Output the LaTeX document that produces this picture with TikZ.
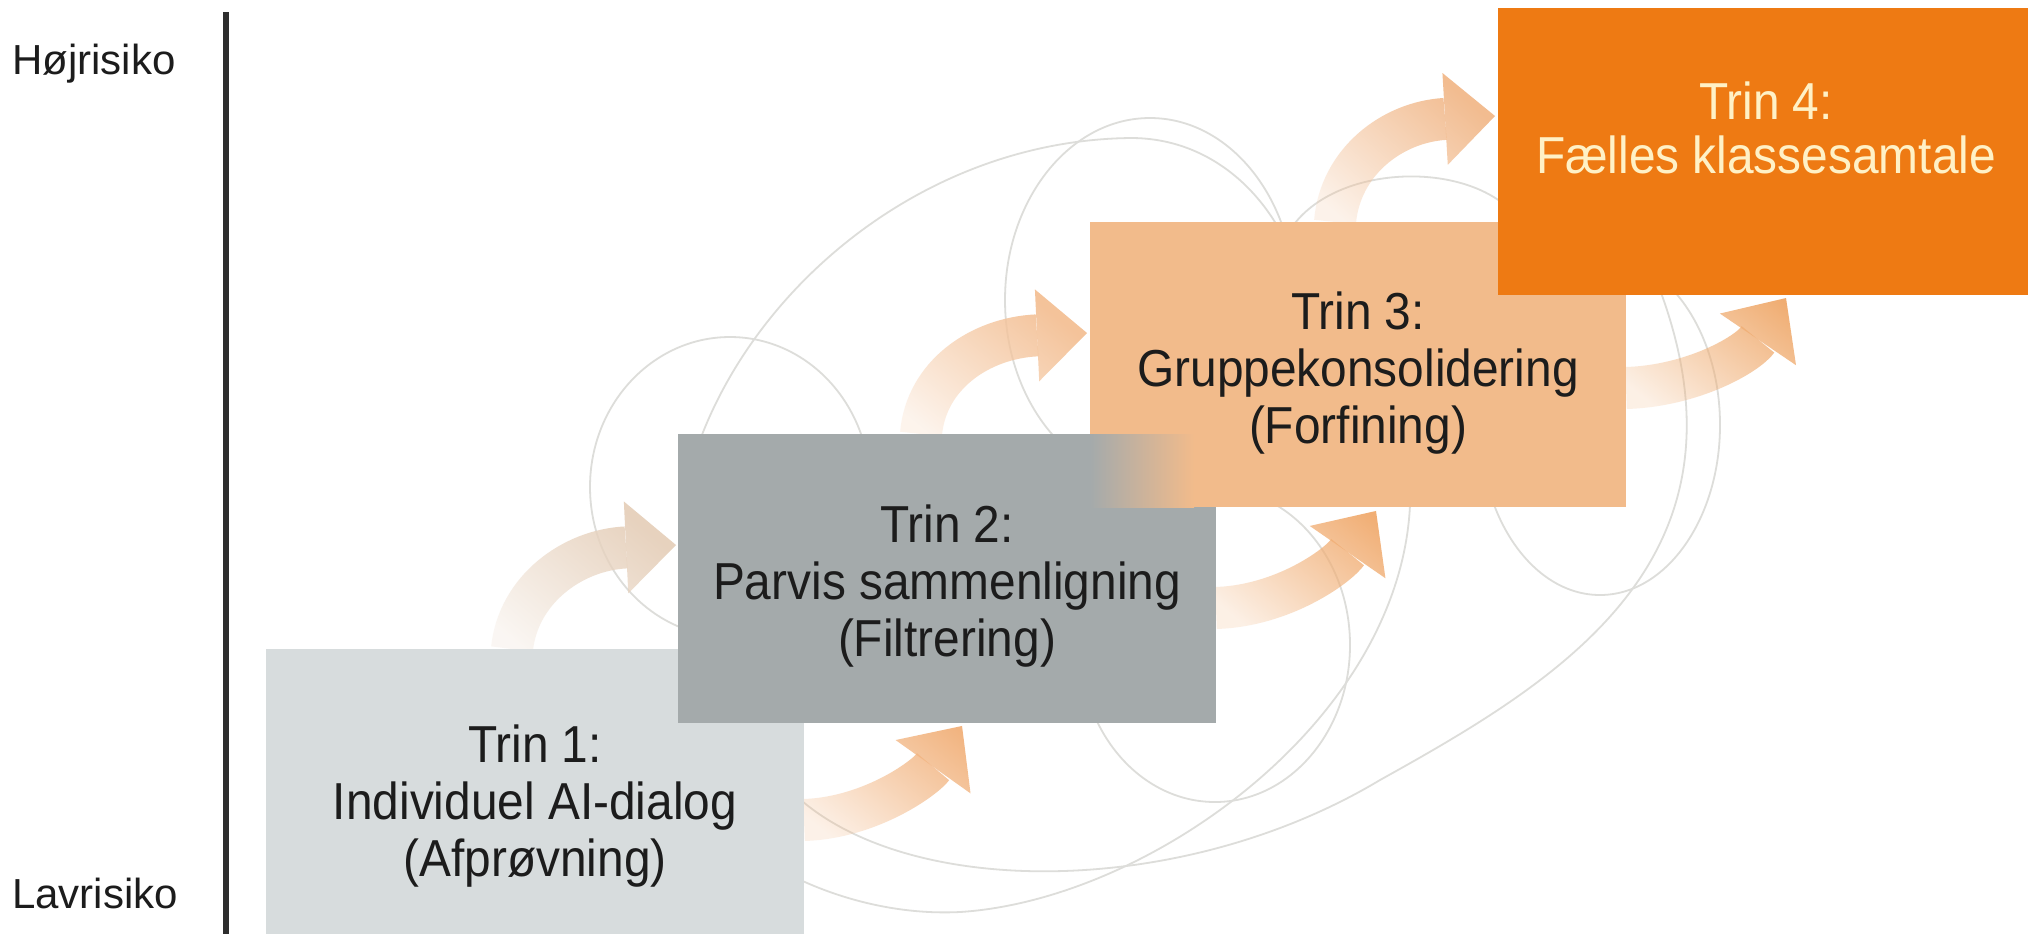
\documentclass[tikz,border=0pt]{standalone}
\usepackage{fontspec}
\setmainfont{Liberation Sans}
\newfontfamily\stepfont[FakeStretch=0.92]{Liberation Sans}
\newfontfamily\sidefont{Liberation Sans}
\usetikzlibrary{arrows.meta,fadings,calc}

\definecolor{stepone}{HTML}{D7DCDD}
\definecolor{steptwo}{HTML}{A4AAAB}
\definecolor{stepthree}{HTML}{F2BB8B}
\definecolor{stepfour}{HTML}{EE7A13}
\definecolor{inkdark}{HTML}{1C1C1C}
\definecolor{inkcream}{HTML}{FFF1C6}
\definecolor{ringgray}{HTML}{DDDDDA}
\definecolor{axisgray}{HTML}{2E2E2E}
\definecolor{flowA}{HTML}{E7D2BE}
\definecolor{flowB}{HTML}{F2B480}
\definecolor{flowC}{HTML}{F4C39A}
\definecolor{flowD}{HTML}{F1AE74}
\definecolor{flowE}{HTML}{F2BC90}
\definecolor{flowF}{HTML}{F0AD72}

\tikzfading[name=flowfade, left color=transparent!82, middle color=transparent!0, right color=transparent!0]

\pgfdeclarelayer{backdrop}
\pgfdeclarelayer{flow}
\pgfsetlayers{backdrop,flow,main}

\begin{document}
\begin{tikzpicture}[x=0.5pt, y=-0.5pt,
  stagebox/.style={rectangle, draw=none, inner sep=0pt, outer sep=0pt},
  steptext/.style={inner sep=0pt, align=center, text=inkdark,
    font=\stepfont\fontsize{26}{28.5}\selectfont},
  sidelabel/.style={inner sep=0pt, text=inkdark,
    font=\sidefont\fontsize{21}{25}\selectfont},
  ring/.style={draw=ringgray, line width=0.9pt},
  flowarrow/.style={line width=21pt, line cap=butt,
    -{Triangle[width=46pt, length=25pt, line width=0pt]},
    path fading=flowfade, fading angle=40},
  axisline/.style={draw=axisgray, line width=2.6pt}]

\useasboundingbox (0,0) rectangle (2028,934);

% stage boxes (later ones overlap earlier ones)
\node[stagebox, fill=stepone, minimum width=269pt, minimum height=142.5pt] (s1) at (535,791.5) {};
\node[stagebox, fill=steptwo, minimum width=269pt, minimum height=144.5pt] (s2) at (947,578.5) {};
\node[stagebox, fill=stepthree, minimum width=268pt, minimum height=142.5pt] (s3) at (1358,364.5) {};
% soft blend where stage 3 lies over stage 2
\shade[left color=steptwo, right color=stepthree] (s3.south west) rectangle ($(s2.north east)+(-22,0)$);
\node[stagebox, fill=stepfour, minimum width=265pt, minimum height=143.5pt] (s4) at (1763,151.5) {};

% stage texts
\node[steptext] (t1) at (535,806) {Trin 1:\\Individuel AI-dialog\\(Afprøvning)};
\node[steptext] (t2) at (947,586) {Trin 2:\\Parvis sammenligning\\(Filtrering)};
\node[steptext] (t3) at (1358,373) {Trin 3:\\Gruppekonsolidering\\(Forfining)};
\node[steptext, text=inkcream, font=\stepfont\fontsize{26}{27}\selectfont] (t4) at (1766,128) {Trin 4:\\Fælles klassesamtale};

% risk axis
\coordinate (axtop) at (226,12);
\coordinate (axbot) at (226,934);
\node[sidelabel, anchor=base] (hi) at (94,74) {Højrisiko};
\node[sidelabel, anchor=base] (lo) at (95,908) {Lavrisiko};

\begin{pgfonlayer}{backdrop}
  \fill[white] (0,0) rectangle (2028,934);
  % faint background rings
  \draw[ring] (730,487) ellipse [x radius=140, y radius=150];
  \draw[ring] (700,440) .. controls (760,280) and (930,140) .. (1131,138)
              .. controls (1200,138) and (1255,180) .. (1285,240);
  \draw[ring] (1150,300) ellipse [x radius=145, y radius=182];
  \draw[ring] (1215,645) ellipse [x radius=135, y radius=157];
  \draw[ring] (1600,425) ellipse [x radius=120, y radius=170];
  \draw[ring] (1290,230) .. controls (1330,168) and (1450,160) .. (1505,205);
  \draw[ring] (790,790) .. controls (900,900) and (1180,900) .. (1380,780)
              .. controls (1560,680) and (1760,560) .. (1660,290);
  \draw[ring] (1410,505) .. controls (1400,720) and (1150,900) .. (960,912)
              .. controls (900,915) and (840,900) .. (790,875);
  \draw[axisline] (axtop) -- (axbot);
\end{pgfonlayer}

\begin{pgfonlayer}{flow}
  \coordinate (a1s) at ($(s1.north west)+(246,0)$);
  \coordinate (a1e) at ($(s2.north west)+(-2,111)$);
  \coordinate (a2s) at ($(s1.north east)+(0,171)$);
  \coordinate (a2e) at ($(s2.south west)+(284,3)$);
  \coordinate (a3s) at ($(s2.north west)+(243,0)$);
  \coordinate (a3e) at ($(s3.north west)+(-3,111)$);
  \coordinate (a4s) at ($(s2.north east)+(0,174)$);
  \coordinate (a4e) at ($(s3.south west)+(286,4)$);
  \coordinate (a5s) at ($(s3.north west)+(245,0)$);
  \coordinate (a5e) at ($(s4.north west)+(-3,108)$);
  \coordinate (a6s) at ($(s3.north east)+(0,166)$);
  \coordinate (a6e) at ($(s4.south west)+(288,3)$);

  \draw[flowarrow, draw=flowA] (a1s) .. controls ($(a1s)+(6,-59)$) and ($(a1e)+(-104,5)$) .. (a1e);
  \draw[flowarrow, draw=flowB] (a2s) .. controls ($(a2s)+(66,-2)$) and ($(a2e)+(-37,52)$) .. (a2e);
  \draw[flowarrow, draw=flowC] (a3s) .. controls ($(a3s)+(5,-59)$) and ($(a3e)+(-107,5)$) .. (a3e);
  \draw[flowarrow, draw=flowD] (a4s) .. controls ($(a4s)+(67,-2)$) and ($(a4e)+(-38,55)$) .. (a4e);
  \draw[flowarrow, draw=flowE] (a5s) .. controls ($(a5s)+(5,-60)$) and ($(a5e)+(-103,6)$) .. (a5e);
  \draw[flowarrow, draw=flowF] (a6s) .. controls ($(a6s)+(67,-2)$) and ($(a6e)+(-38,56)$) .. (a6e);
\end{pgfonlayer}
\end{tikzpicture}
\end{document}
